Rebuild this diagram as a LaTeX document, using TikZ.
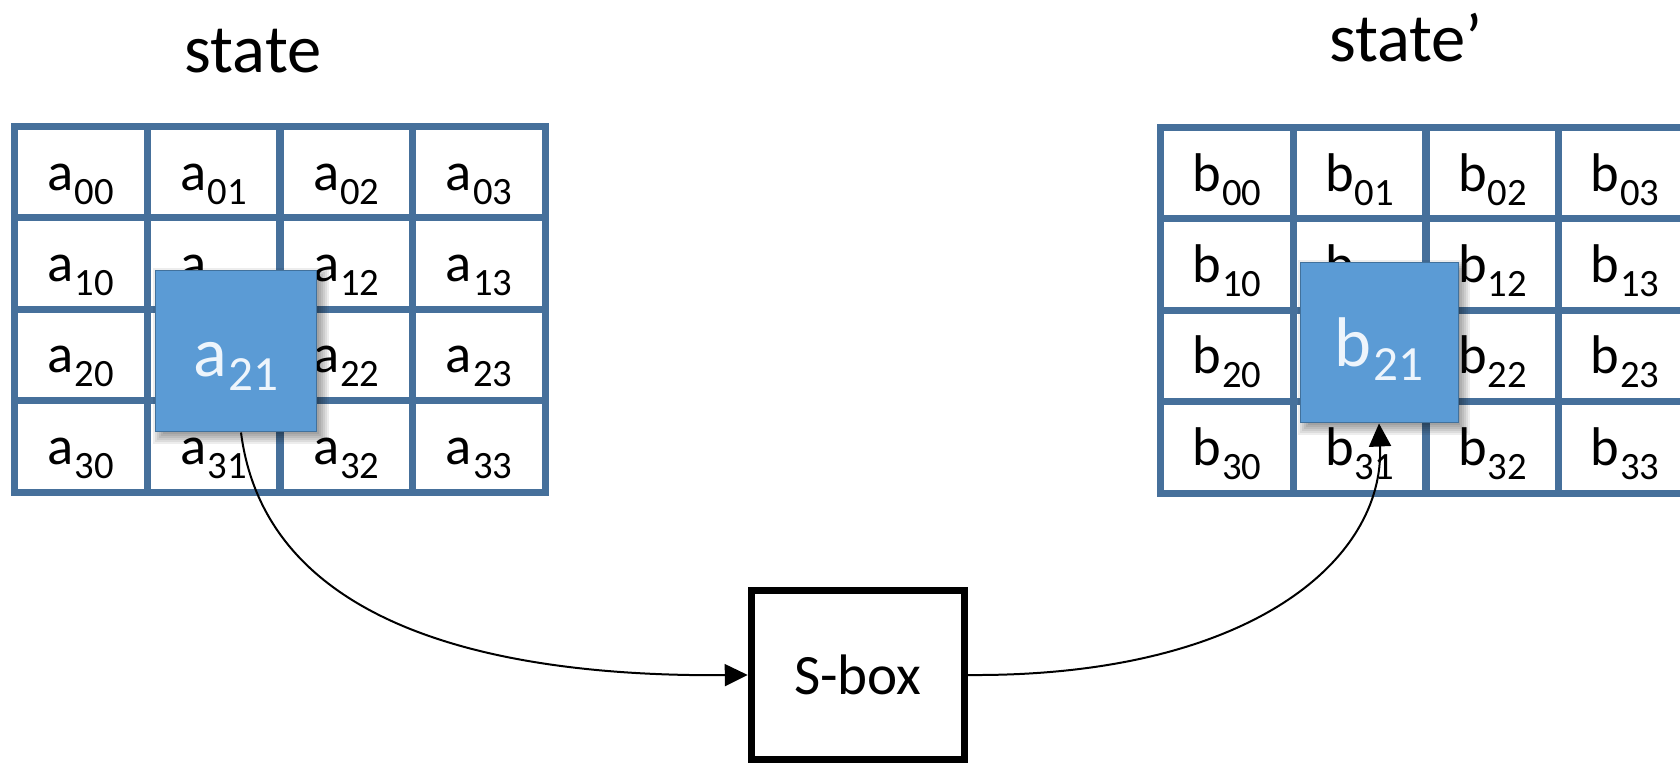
\documentclass[tikz,border=0pt]{standalone}
\usepackage{fontspec}
\setmainfont{Carlito}
\usetikzlibrary{arrows.meta}
\definecolor{gridblue}{RGB}{70,112,155}
\definecolor{boxblue}{RGB}{91,155,213}
\definecolor{boxedge}{RGB}{65,113,156}
\definecolor{hitext}{RGB}{238,245,252}
\newcommand{\cellfont}{\fontsize{31pt}{32pt}\selectfont}
\newcommand{\cellsubfont}{\fontsize{22pt}{23pt}\selectfont}
\newcommand{\bigfont}{\fontsize{40pt}{42pt}\selectfont}
\newcommand{\bigsubfont}{\fontsize{28pt}{29pt}\selectfont}
\newcommand{\cl}[2]{#1\kern0.02cm\raisebox{-0.28cm}{\cellsubfont #2}}
\newcommand{\bl}[2]{#1\kern0.03cm\raisebox{-0.28cm}{\bigsubfont #2}}
\tikzset{
  cellbox/.style={draw=gridblue, line width=0.14cm, minimum width=2.655cm, minimum height=1.828cm,
    inner sep=0pt, text height=0.72cm, text depth=0pt, font=\cellfont},
  hilite/.style={fill=boxblue, draw=boxedge, line width=0.02cm, inner sep=0pt,
    text=hitext, font=\bigfont},
  softshadow/.style={fill=black, opacity=0.07},
  sboxstyle/.style={draw=black, line width=0.14cm, minimum width=4.27cm, minimum height=3.4cm,
    inner sep=0pt, text height=0.8cm, text depth=0pt, font=\fontsize{32.5pt}{34pt}\selectfont},
  titlestyle/.style={anchor=base, inner sep=0pt, font=\fontsize{39pt}{41pt}\selectfont},
  conn/.style={line width=0.04cm, -{Triangle[length=0.46cm, width=0.44cm]}}
}
\begin{document}
\begin{tikzpicture}[x=0.02cm, y=-0.02cm]
\useasboundingbox (0,0) rectangle (1680,766);
\fill[white] (0,0) rectangle (1680,766);
% titles
\node[titlestyle] (t1) at (253,73) {state};
\node[titlestyle] (t2) at (1406,62) {state’};
% left grid
\foreach \i/\yy in {0/172.2,1/263.6,2/355,3/446.4}{
  \foreach \j/\xx in {0/80.9,1/213.6,2/346.4,3/479.1}{
    \node[cellbox] (a\i\j) at (\xx,\yy) {\cl{a}{\i\j}};
  }
}
% right grid
\foreach \i/\yy in {0/173.2,1/264.6,2/356,3/447.4}{
  \foreach \j/\xx in {0/1226.9,1/1359.6,2/1492.4,3/1625.1}{
    \node[cellbox] (b\i\j) at (\xx,\yy) {\cl{b}{\i\j}};
  }
}
% soft shadows of the highlighted boxes
\foreach \s in {-3,-1,1,3,5,7}{
  \fill[softshadow] (155+5-\s,270+5-\s) rectangle (317+5+\s,432+5+\s);
  \fill[softshadow] (1300+5-\s,262+5-\s) rectangle (1458+5+\s,423+5+\s);
}
% highlighted boxes
\node[hilite, minimum width=3.24cm, minimum height=3.24cm, text height=1.04cm, text depth=0pt] (abox) at (236,351) {\bl{a}{21}};
\node[hilite, minimum width=3.16cm, minimum height=3.22cm, text height=0.98cm, text depth=0pt] (bbox) at (1379,342.5) {\bl{b}{21}};
% S-box
\node[sboxstyle] (sbox) at (858,675) {S-box};
% connectors
\draw[conn] ([xshift=0.1cm]abox.south) .. controls (265,620) and (480,677) .. (sbox.west);
\draw[conn] (sbox.east) .. controls (1250,677) and (1385,560) .. (bbox.south);
\end{tikzpicture}
\end{document}
